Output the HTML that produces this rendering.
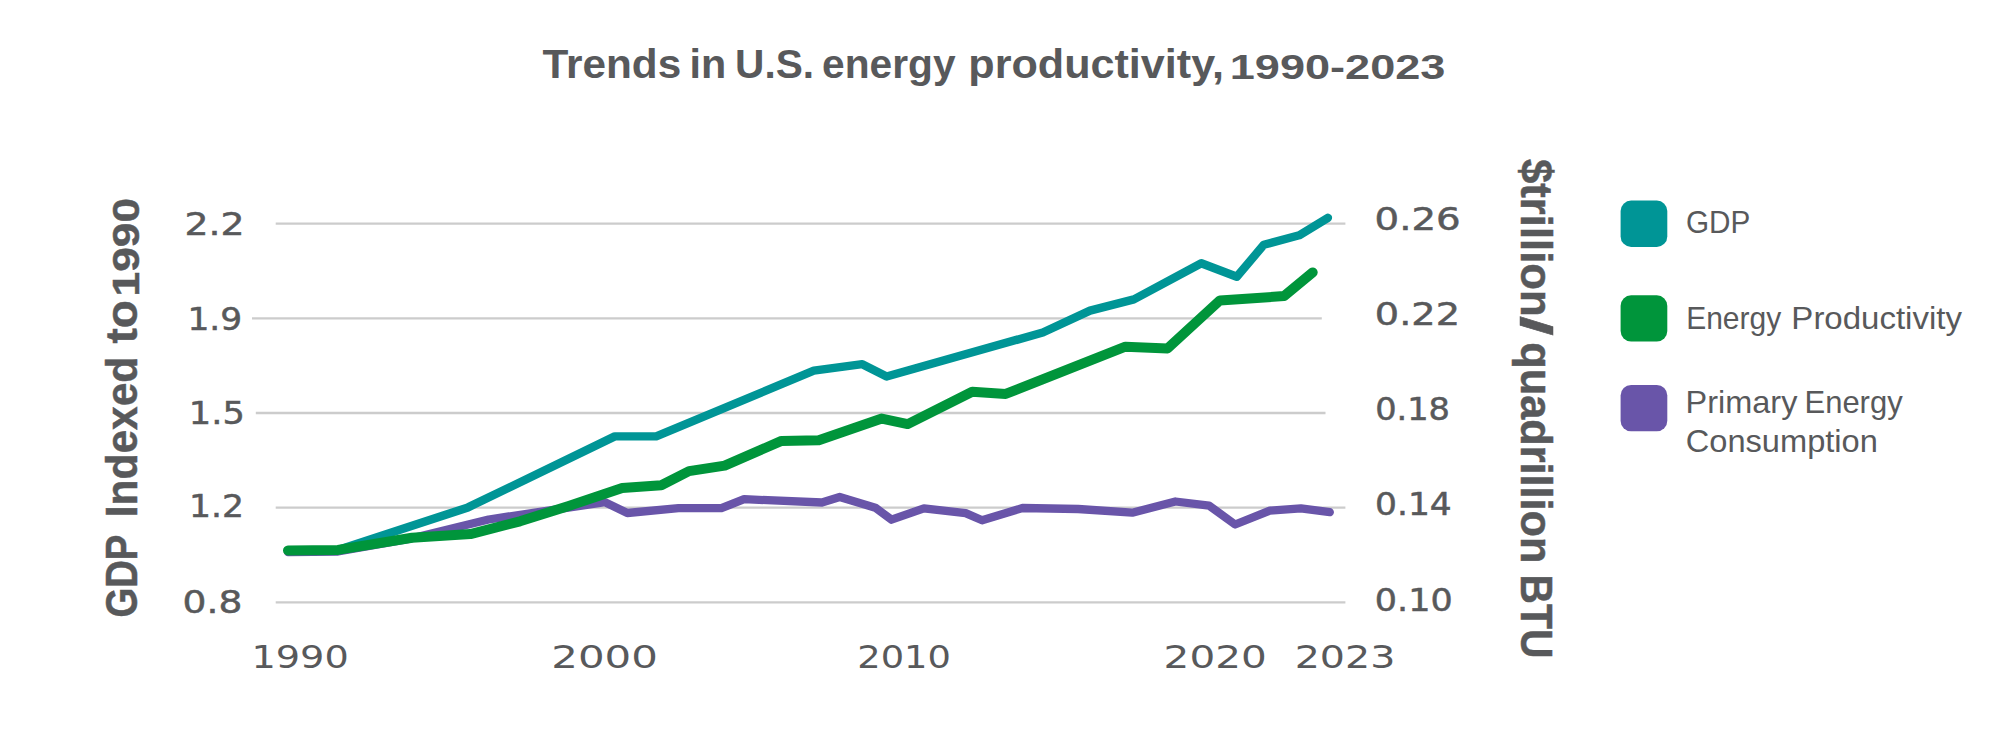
<!DOCTYPE html>
<html lang="en"><head><meta charset="utf-8"><title>Trends in U.S. energy productivity, 1990-2023</title>
<style>html,body{margin:0;padding:0;background:#fff}svg{display:block}text{font-family:"Liberation Sans",sans-serif;fill:#58595b}.b{font-weight:bold}.t{font-family:"DejaVu Sans","Liberation Sans",sans-serif}.u{stroke:#58595b;stroke-width:.5px}.a{stroke:#58595b;stroke-width:.5px}</style></head><body>
<svg width="1999" height="741" viewBox="0 0 1999 741">
<rect width="1999" height="741" fill="#fff"/>
<line x1="275.7" x2="1345.4" y1="223.6" y2="223.6" stroke="#cccccc" stroke-width="2.3"/>
<line x1="252" x2="1321.8" y1="318.3" y2="318.3" stroke="#cccccc" stroke-width="2.3"/>
<line x1="255.8" x2="1325.5" y1="413.0" y2="413.0" stroke="#cccccc" stroke-width="2.3"/>
<line x1="275.7" x2="1345.4" y1="507.7" y2="507.7" stroke="#cccccc" stroke-width="2.3"/>
<line x1="275.7" x2="1345.4" y1="602.4" y2="602.4" stroke="#cccccc" stroke-width="2.3"/>
<g fill="none" stroke-linecap="round" stroke-linejoin="round">
<polyline stroke="#6955a9" stroke-width="8.3" points="288,552 338,551.5 412,538.3 488.6,519.5 605,502.2 627.3,513 678.5,508.2 721.4,508.2 744.1,499.2 821.9,502.5 839.7,497 875.3,507.7 891.5,519.7 923.9,508.4 965.6,513.1 982.1,520.3 1022.5,508 1078.2,509 1132.2,512.7 1175.4,501.5 1209.1,505.6 1235.1,524.5 1269.8,510.6 1300.9,508.3 1329.8,512.2"/>
<polyline stroke="#009596" stroke-width="8.4" points="288,550.5 338,550 468,507.4 614.8,436.4 656.2,436.4 813.8,370.7 862.3,364.2 886.6,376.5 1042.8,332.5 1090,310.6 1133.9,299.4 1201.3,263.3 1236.8,276.8 1263.8,244.8 1299.2,235.3 1327.9,217.8"/>
<polyline stroke="#00953b" stroke-width="10" points="288,550.4 338,549.9 412,537.7 470.4,534.1 520,521.3 568.7,505.9 622.2,488 661.3,485.2 689,471.1 724.7,465.6 781.5,440.9 818.8,440.3 881.8,418.6 907.7,424.1 972.2,391.8 1005.7,393.9 1125.4,346.7 1167.6,348.4 1219.9,300.4 1284,296.1 1312.7,272.4"/>
</g>
<rect x="1620.6" y="200.6" width="46.7" height="46.3" rx="10.5" fill="#009596"/>
<rect x="1620.6" y="295.3" width="46.7" height="46.3" rx="10.5" fill="#00953b"/>
<rect x="1620.6" y="385" width="46.7" height="46.3" rx="10.5" fill="#6955a9"/>
<text class="b" y="77.5" font-size="41.5"><tspan x="542.45" textLength="138.80" lengthAdjust="spacingAndGlyphs">Trends</tspan> <tspan x="689.61" textLength="36.70" lengthAdjust="spacingAndGlyphs">in</tspan> <tspan x="735.10" textLength="79.02" lengthAdjust="spacingAndGlyphs">U.S.</tspan> <tspan x="822.08" textLength="133.48" lengthAdjust="spacingAndGlyphs">energy</tspan> <tspan x="968.29" textLength="255.72" lengthAdjust="spacingAndGlyphs">productivity,</tspan> <tspan x="1229.78" font-size="35.5" y="79" textLength="215.67" lengthAdjust="spacingAndGlyphs">1990-2023</tspan></text>
<text class="t u" y="235" font-size="31.5"><tspan x="184.47" textLength="60.16" lengthAdjust="spacingAndGlyphs">2.2</tspan></text>
<text class="t u" y="329.5" font-size="31.5"><tspan x="187.43" textLength="54.82" lengthAdjust="spacingAndGlyphs">1.9</tspan></text>
<text class="t u" y="423.5" font-size="31.5"><tspan x="188.84" textLength="55.96" lengthAdjust="spacingAndGlyphs">1.5</tspan></text>
<text class="t u" y="517" font-size="31.5"><tspan x="189.12" textLength="55.00" lengthAdjust="spacingAndGlyphs">1.2</tspan></text>
<text class="t u" y="612.5" font-size="31.5"><tspan x="182.57" textLength="59.74" lengthAdjust="spacingAndGlyphs">0.8</tspan></text>
<text class="t u" y="230" font-size="31.5"><tspan x="1374.54" textLength="86.20" lengthAdjust="spacingAndGlyphs">0.26</tspan></text>
<text class="t u" y="325" font-size="31.5"><tspan x="1374.88" textLength="85.17" lengthAdjust="spacingAndGlyphs">0.22</tspan></text>
<text class="t u" y="420" font-size="31.5"><tspan x="1375.20" textLength="74.79" lengthAdjust="spacingAndGlyphs">0.18</tspan></text>
<text class="t u" y="515" font-size="31.5"><tspan x="1375.05" textLength="76.74" lengthAdjust="spacingAndGlyphs">0.14</tspan></text>
<text class="t u" y="611" font-size="31.5"><tspan x="1374.84" textLength="77.84" lengthAdjust="spacingAndGlyphs">0.10</tspan></text>
<text class="t" y="667.5" font-size="32"><tspan x="251.43" textLength="97.32" lengthAdjust="spacingAndGlyphs">1990</tspan></text>
<text class="t" y="667.5" font-size="32"><tspan x="551.24" textLength="106.67" lengthAdjust="spacingAndGlyphs">2000</tspan></text>
<text class="t" y="667.5" font-size="32"><tspan x="857.27" textLength="93.69" lengthAdjust="spacingAndGlyphs">2010</tspan></text>
<text class="t" y="667.5" font-size="32"><tspan x="1163.64" textLength="103.18" lengthAdjust="spacingAndGlyphs">2020</tspan></text>
<text class="t" y="667.5" font-size="32"><tspan x="1294.68" textLength="100.61" lengthAdjust="spacingAndGlyphs">2023</tspan></text>
<text class="b a" transform="rotate(-90)" y="136.5" font-size="44"><tspan x="-617.60" textLength="82.34" lengthAdjust="spacingAndGlyphs">GDP</tspan> <tspan x="-517.35" textLength="160.68" lengthAdjust="spacingAndGlyphs">Indexed</tspan> <tspan x="-343.63" textLength="43.44" lengthAdjust="spacingAndGlyphs">to</tspan> <tspan x="-296.44" font-size="36" y="138.5" textLength="98.49" lengthAdjust="spacingAndGlyphs">1990</tspan></text>
<text class="b a" transform="rotate(90)" y="-1520.5" font-size="44.5"><tspan x="158.89" textLength="157.83" lengthAdjust="spacingAndGlyphs">$trillion</tspan><tspan x="316.10" textLength="19.77" lengthAdjust="spacingAndGlyphs">/</tspan><tspan x="342.35" textLength="221.04" lengthAdjust="spacingAndGlyphs">quadrillion</tspan> <tspan x="574.50" textLength="83.85" lengthAdjust="spacingAndGlyphs">BTU</tspan></text>
<text y="232.7" font-size="31.5"><tspan x="1685.94" textLength="64.37" lengthAdjust="spacingAndGlyphs">GDP</tspan></text>
<text y="328.6" font-size="31.5"><tspan x="1686.15" textLength="95.11" lengthAdjust="spacingAndGlyphs">Energy</tspan> <tspan x="1791.39" textLength="170.53" lengthAdjust="spacingAndGlyphs">Productivity</tspan></text>
<text y="412.9" font-size="31.5"><tspan x="1685.55" textLength="111.83" lengthAdjust="spacingAndGlyphs">Primary</tspan> <tspan x="1804.53" textLength="98.13" lengthAdjust="spacingAndGlyphs">Energy</tspan></text>
<text y="451.5" font-size="31.5"><tspan x="1685.75" textLength="192.08" lengthAdjust="spacingAndGlyphs">Consumption</tspan></text>
</svg></body></html>
